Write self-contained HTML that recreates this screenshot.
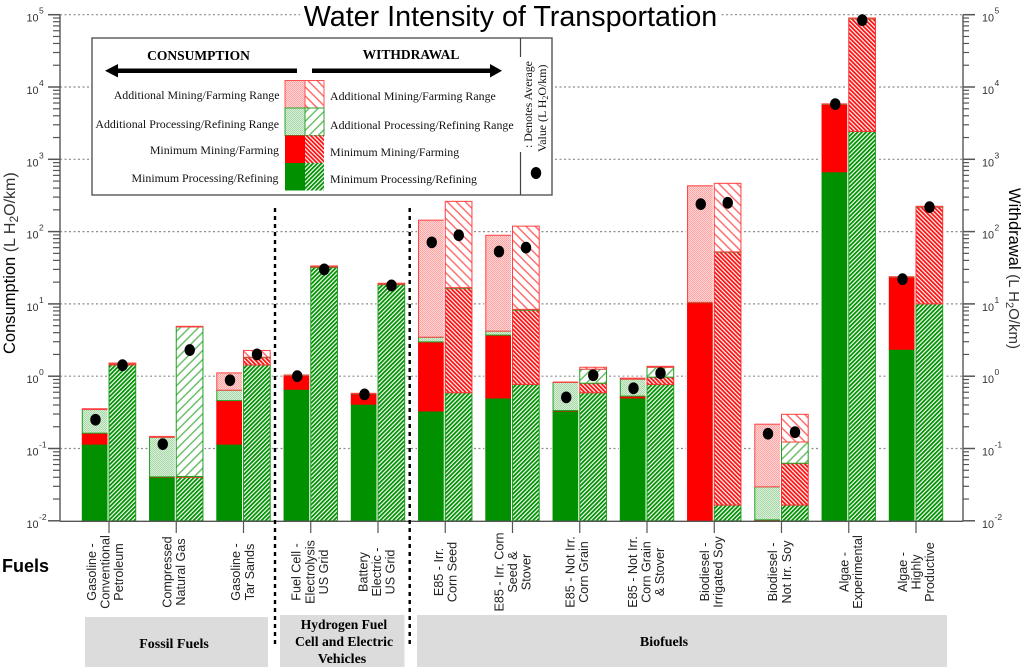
<!DOCTYPE html>
<html lang="en">
<head>
<meta charset="utf-8">
<title>Water Intensity of Transportation</title>
<style>
html,body{margin:0;padding:0;background:#fff;}
svg{display:block;font-family:"Liberation Sans",sans-serif;}
.serif{font-family:"Liberation Serif",serif;}
</style>
</head>
<body>
<svg id="chart" xmlns="http://www.w3.org/2000/svg" width="1024" height="670" viewBox="0 0 1024 670">
  <defs>
    <pattern id="stipple-red" width="2" height="2" patternUnits="userSpaceOnUse">
      <rect width="2" height="2" fill="#ffd6d6"/><rect width="1" height="1" fill="#ffa0a0"/><rect x="1" y="1" width="1" height="1" fill="#ffa8a8"/>
    </pattern>
    <pattern id="stipple-green" width="2" height="2" patternUnits="userSpaceOnUse">
      <rect width="2" height="2" fill="#d8efd8"/><rect width="1" height="1" fill="#a6d6a6"/><rect x="1" y="1" width="1" height="1" fill="#acd9ac"/>
    </pattern>
    <pattern id="hatch-wide-red" width="6.4" height="6.4" patternUnits="userSpaceOnUse" patternTransform="rotate(-45)">
      <rect width="6.4" height="6.4" fill="#fff"/><rect width="1.5" height="6.4" fill="#ff7070"/>
    </pattern>
    <pattern id="hatch-wide-green" width="6.4" height="6.4" patternUnits="userSpaceOnUse" patternTransform="rotate(45)">
      <rect width="6.4" height="6.4" fill="#fff"/><rect width="1.5" height="6.4" fill="#6cc06c"/>
    </pattern>
    <pattern id="hatch-dense-red" width="3" height="3" patternUnits="userSpaceOnUse" patternTransform="rotate(-45)">
      <rect width="3" height="3" fill="#fff"/><rect width="1.8" height="3" fill="#ff1010"/>
    </pattern>
    <pattern id="hatch-dense-green" width="3" height="3" patternUnits="userSpaceOnUse" patternTransform="rotate(45)">
      <rect width="3" height="3" fill="#fff"/><rect width="1.8" height="3" fill="#009000"/>
    </pattern>
  </defs>

  <g id="grid"></g>
  <g id="bars"></g>
  <g id="dots"></g>
  <g id="axes"></g>
  <g id="xlabels"></g>

  <!-- category dividers -->
  <line x1="275" y1="208" x2="275" y2="648" stroke="#000" stroke-width="2.4" stroke-dasharray="4 4"/>
  <line x1="409.7" y1="208" x2="409.7" y2="648" stroke="#000" stroke-width="2.4" stroke-dasharray="4 4"/>

  <!-- title -->
  <rect x="300" y="2" width="421" height="30" fill="#fff"/>
  <text x="510.5" y="26" text-anchor="middle" font-size="28.7" fill="#000">Water Intensity of Transportation</text>

  <!-- axis titles -->
  <text transform="translate(15 354) rotate(-90)" font-size="16.5" fill="#000">Consumption <tspan font-size="16" fill="#333">(L H<tspan dy="3" font-size="12">2</tspan><tspan dy="-3">O/km)</tspan></tspan></text>
  <text transform="translate(1009 188) rotate(90)" font-size="16.5" fill="#000">Withdrawal <tspan font-size="15" fill="#333">(L H<tspan dy="3" font-size="11">2</tspan><tspan dy="-3">O/km)</tspan></tspan></text>
  <text x="2" y="572" font-size="18" font-weight="bold" fill="#000">Fuels</text>

  <!-- category bands -->
  <g class="serif" font-weight="bold" font-size="14" fill="#000" text-anchor="middle">
    <rect x="85" y="617" width="183" height="50" fill="#dcdcdc"/>
    <text x="174" y="648">Fossil Fuels</text>
    <rect x="280" y="615" width="124.500" height="52" fill="#dcdcdc"/>
    <text x="344" y="629" font-size="13.500">Hydrogen Fuel</text>
    <text x="344" y="646" font-size="13.700">Cell and Electric</text>
    <text x="342" y="663">Vehicles</text>
    <rect x="417" y="615" width="530" height="52" fill="#dcdcdc"/>
    <text x="664" y="646">Biofuels</text>
  </g>

  <!-- legend -->
  <g class="serif">
    <rect x="92" y="38" width="460" height="157" fill="#fff" stroke="#555" stroke-width="1.4"/>
    <line x1="520.500" y1="38" x2="520.500" y2="57" stroke="#444" stroke-width="1.2"/>
    <line x1="520.500" y1="152" x2="520.500" y2="195" stroke="#444" stroke-width="1.2"/>

    <text x="198.500" y="60" text-anchor="middle" font-size="13.500" font-weight="bold">CONSUMPTION</text>
    <text x="411" y="59" text-anchor="middle" font-size="13.500" font-weight="bold">WITHDRAWAL</text>
    <path d="M297 68.500 H118 V64 L105 70.700 L118 77.500 V73 H297 Z" fill="#000"/>
    <path d="M312 68.500 H490 V64 L502 70.700 L490 77.500 V73 H312 Z" fill="#000"/>

    <g>
      <rect x="285" y="80.500" width="20" height="27.500" fill="url(#stipple-red)" stroke="#ff5050"/>
      <rect x="305" y="80.500" width="19" height="27.500" fill="url(#hatch-wide-red)" stroke="#ff5050"/>
      <rect x="285" y="108" width="20" height="27.500" fill="url(#stipple-green)" stroke="#30a030"/>
      <rect x="305" y="108" width="19" height="27.500" fill="url(#hatch-wide-green)" stroke="#30a030"/>
      <rect x="285" y="135.500" width="20" height="27.500" fill="#ff0000"/>
      <rect x="305" y="135.500" width="19" height="27.500" fill="url(#hatch-dense-red)"/>
      <rect x="285" y="163" width="20" height="27.500" fill="#009000"/>
      <rect x="305" y="163" width="19" height="27.500" fill="url(#hatch-dense-green)"/>
    </g>

    <g font-size="11.900" text-anchor="end" fill="#111">
      <text x="279.500" y="99">Additional Mining/Farming Range</text>
      <text x="279" y="128">Additional Processing/Refining Range</text>
      <text x="279" y="154">Minimum Mining/Farming</text>
      <text x="278.500" y="182">Minimum Processing/Refining</text>
    </g>
    <g font-size="11.900" fill="#111">
      <text x="330" y="100">Additional Mining/Farming Range</text>
      <text x="330" y="129">Additional Processing/Refining Range</text>
      <text x="330" y="156">Minimum Mining/Farming</text>
      <text x="330" y="183">Minimum Processing/Refining</text>
    </g>
    <text transform="translate(532 148) rotate(-90)" font-size="11.900" fill="#111">: Denotes Average</text>
    <text transform="translate(546 152) rotate(-90)" font-size="11.900" fill="#111">Value (L H<tspan dy="2" font-size="8">2</tspan><tspan dy="-2">O/km)</tspan></text>
    <ellipse cx="536" cy="173" rx="5.200" ry="6" fill="#000"/>
  </g>

<script>
// Fuel categories (wrapped label lines)
const categories = [
  ["Gasoline -","Conventional","Petroleum"],
  ["Compressed","Natural Gas"],
  ["Gasoline -","Tar Sands"],
  ["Fuel Cell -","Electrolysis","US Grid"],
  ["Battery","Electric -","US Grid"],
  ["E85 - Irr.","Corn Seed"],
  ["E85 - Irr. Corn","Seed &","Stover"],
  ["E85 - Not Irr.","Corn Grain"],
  ["E85 - Not Irr.","Corn Grain","& Stover"],
  ["Biodiesel -","Irrigated Soy"],
  ["Biodiesel -","Not Irr. Soy"],
  ["Algae -","Experimental"],
  ["Algae -","Highly","Productive"]
];
// Log-axis decade exponents
const tickExponents = [5,4,3,2,1,0,-1,-2];
// Consumption: top of each stacked layer (L H2O/km)
const consProcessing = [0.115,0.04,0.115,0.66,0.41,0.33,0.5,0.33,0.5,0.0101,0.0101,672,2.36];
const consMining     = [0.163,0.0405,0.46,1.02,0.57,2.98,3.7,0.335,0.53,10.4,0.0103,5750,23.4];
const consProcRange  = [0.346,0.143,0.64,1.03,0.575,3.46,4.2,0.82,0.91,10.5,0.0295,5800,23.6];
const consMineRange  = [0.355,0.147,1.11,1.04,0.58,144,89,0.83,0.94,430,0.217,5850,23.8];
// Withdrawal: top of each stacked layer (L H2O/km)
const withProcessing = [1.43,0.04,1.43,32,18.5,0.59,0.77,0.59,0.77,0.0165,0.0165,2430,10];
const withMining     = [1.47,0.041,1.81,32.5,18.8,16.5,8.2,0.8,0.97,52,0.0625,88000,218];
const withProcRange  = [1.48,4.8,1.83,33,19,16.8,8.4,1.25,1.33,52.5,0.123,89000,220];
const withMineRange  = [1.52,4.9,2.27,33.5,19.3,262,119,1.33,1.37,465,0.297,90000,224];
// Average values (black dots)
const consAverage = [0.25,0.115,0.88,1.0,0.56,71,53,0.51,0.68,240,0.16,5800,22];
const withAverage = [1.42,2.3,2.0,30,18,89,60,1.03,1.1,250,0.168,84000,218];

const SVGNS = "http://www.w3.org/2000/svg";
const yTop = 14.7, decadePx = 72.3, plotLeft = 60, plotRight = 963;
function yScale(v){ return yTop + (5 - Math.log10(v)) * decadePx; }
function xTick(i){ return 109 + i * 67.25; }
const yBase = yScale(0.01);
const barWidth = 26.7;

function make(parentId, tag, attrs, text){
  const el = document.createElementNS(SVGNS, tag);
  for (const k in attrs) el.setAttribute(k, attrs[k]);
  if (text !== undefined) el.textContent = text;
  document.getElementById(parentId).appendChild(el);
  return el;
}

// gridlines
tickExponents.slice(0, -1).forEach(function(e){
  const y = yScale(Math.pow(10, e));
  const el = make("grid", "line", {x1: plotLeft, y1: y, x2: plotRight, y2: y, stroke: "#8c8c8c", "stroke-width": 1.2, "stroke-dasharray": "2 2.500"});
  
  
});

// bars
const consLayers = [
  {values: consProcessing, fill: "#009000", stroke: "#009000", label: "consumption-processing"},
  {values: consMining, fill: "#ff0000", stroke: "#ff0000", label: "consumption-mining"},
  {values: consProcRange, fill: "url(#stipple-green)", stroke: "#20a020", label: "consumption-processing-range"},
  {values: consMineRange, fill: "url(#stipple-red)", stroke: "#ff4040", label: "consumption-mining-range"}
];
const withLayers = [
  {values: withProcessing, fill: "url(#hatch-dense-green)", stroke: "#20a020", label: "withdrawal-processing"},
  {values: withMining, fill: "url(#hatch-dense-red)", stroke: "#ff3030", label: "withdrawal-mining"},
  {values: withProcRange, fill: "url(#hatch-wide-green)", stroke: "#20a020", label: "withdrawal-processing-range"},
  {values: withMineRange, fill: "url(#hatch-wide-red)", stroke: "#ff4040", label: "withdrawal-mining-range"}
];
function drawStack(layers, i, x){
  const outerTop = yScale(layers[3].values[i]);
  const halo = make("bars", "rect", {x: x - 1.5, y: outerTop - 1.5, width: barWidth + 3, height: yBase - outerTop + 1.5, fill: "#fff"});
  
  
  let bottom = yBase;
  layers.forEach(function(layer){
    const top = yScale(layer.values[i]);
    const h = Math.max(0, bottom - top);
    const bar = make("bars", "rect", {x: x, y: top, width: barWidth, height: h, fill: layer.fill, stroke: layer.stroke, "stroke-width": 1});
    
    
    bottom = top;
  });
}
categories.forEach(function(c, i){
  drawStack(consLayers, i, xTick(i) - barWidth);
  drawStack(withLayers, i, xTick(i));
});

// average markers
categories.forEach(function(c, i){
  const a = make("dots", "ellipse", {cx: xTick(i) - 13.5, cy: yScale(consAverage[i]), rx: 5.2, ry: 5.9, fill: "#000"});
  
  
  const b = make("dots", "ellipse", {cx: xTick(i) + 13.5, cy: yScale(withAverage[i]), rx: 5.2, ry: 5.9, fill: "#000"});
  
  
});

// axes
function axisLine(x1, y1, x2, y2, w, name){
  const el = make("axes", "line", {x1: x1, y1: y1, x2: x2, y2: y2, stroke: "#555", "stroke-width": w});
  
  
}
axisLine(plotLeft, yTop, plotLeft, yBase + 0.5, 1.4, 'left-axis-line');
axisLine(plotRight, yTop, plotRight, yBase + 0.5, 1.4, 'right-axis-line');
axisLine(plotLeft, yBase + 0.5, plotRight, yBase + 0.5, 1.4, 'x-axis-line');
tickExponents.forEach(function(e, idx){
  const y = yScale(Math.pow(10, e));
  axisLine(48, y, plotLeft, y, 1.5, 'left-major-tick');
  axisLine(plotRight, y, 975, y, 1.5, 'right-major-tick');
  if (idx < tickExponents.length - 1) {
    for (let m = 2; m <= 9; m++) {
      const my = yScale(m * Math.pow(10, e - 1));
      axisLine(53, my, plotLeft, my, 1.2, 'left-minor-tick');
      axisLine(plotRight, my, 969, my, 1.2, 'right-minor-tick');
    }
  }
  [[26.5, 'left'], [982, 'right']].forEach(function(p){
    const t = make("axes", "text", {x: p[0], y: y + 7, "font-size": 10.8, fill: "#333"});
    
    
    const base = document.createElementNS(SVGNS, "tspan");
    base.textContent = "10";
    t.appendChild(base);
    const sup = document.createElementNS(SVGNS, "tspan");
    sup.setAttribute("dy", "-8");
    sup.setAttribute("dx", "0.5");
    sup.setAttribute("font-size", "8.5");
    sup.textContent = String(e);
    t.appendChild(sup);
  });
});
categories.forEach(function(c, i){
  const x = xTick(i);
  axisLine(x, yBase + 0.5, x, 533, 1.2, 'x-tick');
});

// fuel labels
const lineGap = 13.6;
function labelOffset(i){
  const offsets = {0:-4, 1:-2.5, 2:-1, 3:-1, 4:-1.5, 5:0, 6:0, 7:-3, 8:-1, 9:-3, 10:-2, 11:2, 12:0};
  return offsets[i];
}
categories.forEach(function(lines, i){
  const cx = xTick(i) + labelOffset(i);
  lines.forEach(function(line, j){
    const lx = cx + (j - (lines.length - 1) / 2) * lineGap + 4.5;
    const t = make("xlabels", "text", {transform: "translate(" + lx + " 572) rotate(-90)", "text-anchor": "middle", "font-size": 12.6, fill: "#222"}, line);
    
    
  });
});
</script>
</svg>
</body>
</html>
